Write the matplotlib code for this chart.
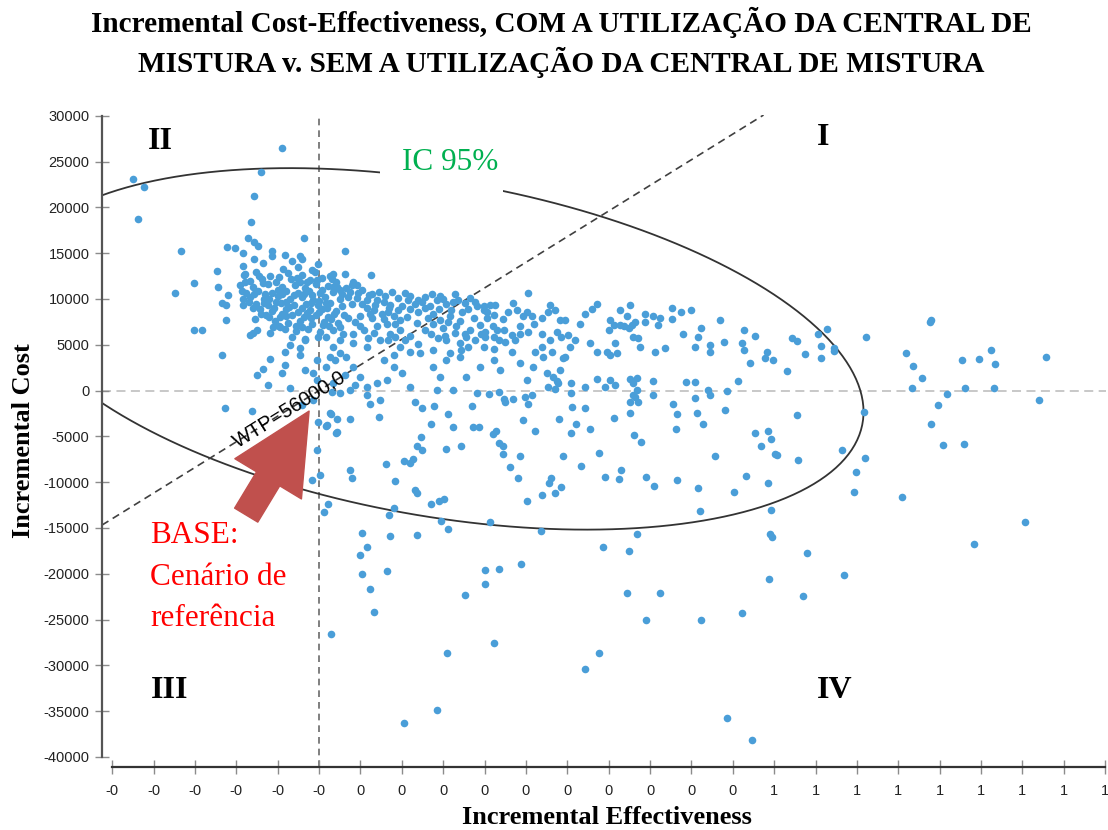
import numpy as np
import matplotlib
matplotlib.use('Agg')
import matplotlib.pyplot as plt
from matplotlib.patches import FancyArrowPatch, Rectangle

plt.rcParams['axes.unicode_minus'] = False

SERIF = 'Liberation Serif'
SANS = 'Liberation Sans'

# (incremental effectiveness, incremental cost)
upper_left = [
    (-0.225, 23100), (-0.211, 22200), (-0.219, 18700), (-0.045, 26500), (-0.070, 23900),
    (-0.079, 21200), (-0.082, 18400), (-0.086, 16700), (-0.079, 16200), (-0.074, 15800),
    (-0.167, 15200), (-0.111, 15700), (-0.102, 15600), (-0.092, 15000), (-0.057, 15200),
    (-0.057, 14700), (-0.041, 14800), (-0.023, 14700), (-0.021, 14400), (-0.018, 16700),
    (0.031, 15200), (0.063, 12600), (-0.174, 10600), (-0.151, 11700), (-0.123, 13000),
    (-0.122, 11300), (-0.110, 10400), (-0.117, 9600), (-0.112, 9300), (-0.092, 13600),
    (-0.089, 12700), (-0.092, 10000), (-0.079, 14400), (-0.068, 13900), (-0.112, 7700),
    (-0.117, 3900), (-0.151, 6600), (-0.141, 6600), (-0.077, 7800), (-0.075, 6600),
    (-0.083, 6100), (-0.080, 6300), (-0.059, 6300), (-0.056, 6900), (-0.047, 6900),
    (-0.059, 3400), (-0.068, 2300), (-0.075, 1700), (-0.045, 1900), (-0.062, 600),
]

core = [
    (-0.033, 14100), (-0.001, 13800), (-0.044, 13300), (-0.025, 13500), (-0.008, 13200),
    (-0.091, 12600), (-0.076, 12900), (-0.059, 12500), (-0.037, 12800), (-0.021, 12600),
    (-0.005, 12900), (0.013, 12500), (0.031, 12700), (-0.083, 12000), (-0.069, 12200),
    (-0.052, 11900), (-0.034, 12200), (-0.023, 11900), (-0.011, 12100), (0.004, 12300),
    (0.021, 11900), (-0.095, 11500), (-0.080, 11300), (-0.062, 11600), (-0.045, 11300),
    (-0.029, 11500), (-0.017, 11200), (-0.004, 11600), (0.011, 11400), (0.033, 11200),
    (-0.088, 10700), (-0.074, 10900), (-0.057, 10600), (-0.040, 10900), (-0.025, 10700),
    (-0.012, 10900), (0.001, 10600), (0.017, 10800), (0.047, 10700), (-0.083, 10200),
    (-0.066, 10000), (-0.050, 10300), (-0.035, 10000), (-0.021, 10200), (-0.007, 9900),
    (0.007, 10200), (0.025, 10000), (-0.092, 9300), (-0.076, 9500), (-0.062, 9300),
    (-0.046, 9600), (-0.030, 9300), (-0.016, 9500), (-0.001, 9300), (0.013, 9600),
    (0.040, 9400), (-0.071, 8900), (-0.057, 8700), (-0.040, 8900), (-0.025, 8600),
    (-0.011, 8800), (0.004, 8900), (0.021, 8700), (-0.064, 8200), (-0.047, 8000),
    (-0.033, 8200), (-0.018, 8000), (-0.004, 8300), (0.011, 8000), (0.030, 8200),
    (-0.053, 7600), (-0.037, 7400), (-0.023, 7600), (-0.008, 7300), (0.006, 7500),
    (0.023, 7400), (-0.041, 6700), (-0.028, 6500), (-0.013, 6700), (0.001, 6400),
    (-0.033, 5800), (-0.017, 5600), (-0.001, 5800), (-0.035, 5000), (-0.023, 4600),
    (-0.041, 4200), (-0.017, 5500), (-0.068, 11700), (-0.050, 11000), (-0.030, 10400),
    (-0.014, 11800), (0.000, 9800), (-0.040, 9700), (-0.055, 9000), (-0.020, 9000),
    (0.010, 9000), (-0.065, 10500), (-0.008, 10400), (0.028, 10500), (-0.045, 8400),
    (-0.010, 7900), (0.018, 8400), (-0.028, 7100), (0.012, 7000), (-0.085, 9700),
    (-0.070, 8400), (-0.090, 11900), (-0.072, 12500), (-0.048, 12400), (-0.027, 12300),
    (-0.003, 12100), (0.016, 12200), (-0.093, 10900), (-0.078, 10500), (-0.060, 10000),
    (-0.045, 10500), (-0.018, 10500), (0.003, 11000), (0.022, 11300), (0.040, 11500),
    (-0.080, 9000), (-0.066, 9600), (-0.052, 9700), (-0.036, 9100), (-0.010, 9600),
    (0.008, 9600), (0.028, 9200), (0.052, 9500), (-0.060, 8000), (-0.040, 8100),
    (-0.015, 8500), (0.000, 8600), (0.015, 7800), (0.035, 7900), (-0.048, 7100),
    (-0.020, 6900), (0.005, 7200), (0.025, 6900),
]

middle = [
    (0.017, 12700), (0.041, 11900), (0.046, 11500), (0.017, 11300), (0.025, 11000),
    (0.035, 10200), (0.046, 10100), (0.058, 9900), (0.070, 9900), (0.078, 9700),
    (0.086, 9300), (0.058, 9000), (0.066, 8800), (0.076, 8400), (0.090, 8100),
    (0.098, 7700), (0.082, 7300), (0.070, 7000), (0.054, 6600), (0.041, 6200),
    (0.029, 6200), (0.017, 6600), (0.009, 5900), (0.025, 5500), (0.041, 5200),
    (0.058, 4800), (0.074, 5500), (0.086, 6200), (0.098, 6600), (0.108, 9900),
    (0.116, 9500), (0.124, 9700), (0.134, 9200), (0.142, 9900), (0.154, 9500),
    (0.162, 9700), (0.168, 9900), (0.138, 8400), (0.146, 7700), (0.158, 8100),
    (0.166, 7000), (0.176, 6200), (0.182, 6600), (0.191, 9200), (0.199, 8800),
    (0.203, 7900), (0.237, 5500), (0.243, 6200), (0.180, 4800), (0.170, 5200),
    (0.154, 5500), (0.158, 4100), (0.172, 4400), (0.138, 4400), (0.122, 4100),
    (0.110, 4200), (0.098, 4800), (0.090, 3900), (0.078, 3300), (0.090, 2600),
    (0.100, 1900), (0.110, 400), (0.082, 1100), (0.070, 800), (0.058, 400),
    (0.050, 1500), (0.041, 2600), (0.033, 3700), (0.025, 4100), (0.017, 4800),
    (0.013, 3700), (0.009, 2600), (-0.003, 3300), (-0.007, 1900), (-0.003, 1100),
    (0.017, 800), (0.025, -300), (0.037, 100), (0.058, -500), (0.074, -1000),
    (0.138, 2600), (0.146, 1500), (0.154, 3300), (0.170, 3700), (0.178, 1500),
    (0.195, 2600), (0.211, 3300), (0.219, 2200), (0.243, 3000), (0.251, 1100),
    (0.259, 2600), (0.271, 3700), (0.275, 1900), (0.142, 100), (0.162, 100),
    (0.191, -300), (0.235, -900), (0.037, 10800), (0.052, 11000), (0.064, 10500),
    (0.080, 10300), (0.095, 10100), (0.110, 10300), (0.128, 10200), (0.146, 10300),
    (0.164, 10500), (0.182, 10100), (0.050, 8100), (0.064, 7900), (0.083, 8600),
    (0.100, 9200), (0.120, 8600), (0.132, 7900), (0.156, 7500), (0.173, 8600),
    (0.187, 7900), (0.044, 7500), (0.059, 5700), (0.083, 5500), (0.110, 6000),
    (0.128, 6600), (0.144, 5700), (0.164, 6300), (0.189, 5500), (0.060, 10400),
    (0.072, 10800), (0.088, 10800), (0.104, 10700), (0.120, 9900), (0.136, 10500),
    (0.150, 10000), (0.176, 9600), (0.188, 9700), (0.068, 9300), (0.084, 9000),
    (0.095, 8800), (0.110, 8900), (0.128, 9000), (0.145, 8900), (0.160, 8800),
    (0.180, 8900), (0.062, 8400), (0.078, 7800), (0.092, 7300), (0.106, 8000),
    (0.118, 7400), (0.138, 7300), (0.150, 6800), (0.170, 7600), (0.195, 7200),
    (0.050, 7000), (0.066, 6300), (0.092, 5900), (0.104, 5500), (0.120, 5100),
    (0.135, 6200), (0.152, 6000), (0.178, 5800), (0.196, 6200), (0.210, 7100),
    (0.222, 7800), (0.228, 8600), (0.260, 7300), (0.235, 9600),
]

right_band = [
    (0.253, 10600), (0.199, 9200), (0.207, 9300), (0.213, 9300), (0.203, 8600),
    (0.211, 8200), (0.239, 8800), (0.251, 8600), (0.247, 8100), (0.257, 8100),
    (0.269, 7900), (0.279, 9300), (0.285, 8800), (0.277, 8600), (0.291, 7700),
    (0.297, 7700), (0.315, 7300), (0.321, 8400), (0.330, 8900), (0.336, 9500),
    (0.364, 8800), (0.376, 9300), (0.372, 8100), (0.352, 7700), (0.356, 7200),
    (0.350, 6600), (0.364, 7200), (0.368, 7000), (0.378, 7200), (0.382, 7500),
    (0.374, 6800), (0.394, 8400), (0.404, 8100), (0.412, 7900), (0.394, 7500),
    (0.410, 7200), (0.427, 9000), (0.438, 8600), (0.450, 8800), (0.427, 7800),
    (0.484, 7700), (0.201, 6400), (0.211, 5900), (0.201, 5900), (0.217, 5500),
    (0.225, 5300), (0.233, 6100), (0.223, 6600), (0.215, 6600), (0.199, 4800),
    (0.211, 4500), (0.233, 4200), (0.243, 7000), (0.253, 6400), (0.269, 6200),
    (0.279, 5500), (0.287, 6400), (0.293, 5900), (0.301, 6100), (0.309, 5500),
    (0.303, 4800), (0.261, 4200), (0.269, 4800), (0.281, 4200), (0.295, 3500),
    (0.297, 3700), (0.328, 5200), (0.336, 4200), (0.348, 4200), (0.358, 5200),
    (0.360, 4100), (0.352, 3900), (0.380, 5900), (0.386, 5700), (0.388, 4800),
    (0.406, 4200), (0.418, 4600), (0.440, 6200), (0.458, 5900), (0.462, 6800),
    (0.473, 5000), (0.473, 4200), (0.489, 5300), (0.454, 4800), (0.513, 6600),
    (0.527, 6000), (0.511, 5200), (0.513, 4400), (0.541, 4200), (0.539, 3500),
    (0.549, 3300), (0.571, 5700), (0.577, 5400), (0.603, 6200), (0.614, 6700),
    (0.606, 4900), (0.606, 3600), (0.622, 4700), (0.622, 4300), (0.587, 4000),
    (0.521, 3000), (0.565, 2100),
]

near_zero = [
    (0.205, -400), (0.217, -200), (0.223, -900), (0.249, -700), (0.257, -500),
    (0.277, 400), (0.285, 200), (0.289, 800), (0.291, 2200), (0.283, 1500),
    (0.287, 1000), (0.305, 800), (0.305, -300), (0.321, 400), (0.336, 1300),
    (0.346, 400), (0.358, 600), (0.352, 1100), (0.376, 1300), (0.384, 1400),
    (0.380, 800), (0.384, 100), (0.380, -500), (0.382, -700), (0.404, 1000),
    (0.404, -500), (0.444, 900), (0.454, 900), (0.454, -800), (0.470, 100),
    (0.472, -500), (0.493, 0), (0.506, 1000),
]

right_tail = [
    (0.661, 5800), (0.738, 7500), (0.740, 7700), (0.709, 4100), (0.718, 2700),
    (0.729, 1400), (0.717, 300), (0.777, 3300), (0.798, 3400), (0.812, 4400),
    (0.817, 2900), (0.781, 300), (0.816, 300), (0.759, -400), (0.748, -1600),
    (0.740, -3600), (0.754, -5900), (0.779, -5800), (0.879, 3700), (0.870, -1000),
    (0.853, -14400), (0.791, -16800), (0.705, -11600), (0.659, -2300), (0.632, -6500),
    (0.660, -7400), (0.649, -8900), (0.647, -11100), (0.634, -20100),
]

lower = [
    (-0.114, -1900), (-0.081, -2200), (-0.007, -1000), (-0.001, -3400), (0.010, -3800),
    (0.013, -2500), (0.022, -4500), (0.037, -3100), (-0.003, -6500), (0.001, -9200),
    (-0.009, -9800), (0.011, -12400), (0.006, -13300), (0.037, -8700), (0.040, -9600),
    (0.081, -8000), (0.103, -7700), (0.113, -7500), (0.110, -7900), (0.116, -10900),
    (0.118, -11200), (0.092, -9900), (0.090, -12800), (0.084, -13600), (0.052, -15500),
    (0.058, -17100), (0.049, -18000), (0.052, -20000), (0.061, -21700), (0.082, -19700),
    (0.086, -15900), (0.118, -15800), (0.066, -24200), (0.015, -26600), (0.118, -6100),
    (0.116, -1200), (-0.021, -1600), (-0.041, 2800), (-0.035, 300), (-0.017, 2200),
    (-0.023, 3900), (0.019, 3300), (0.031, 1700), (0.044, 600), (0.016, -200),
    (0.015, -2600), (0.022, -3100), (0.009, -3900), (0.021, -4600), (0.061, -1500),
    (0.073, -2900), (0.125, -1900), (0.139, -1700), (0.135, -3700), (0.156, -2600),
    (0.162, -4000), (0.123, -5100), (0.124, -6500), (0.154, -6400), (0.172, -6100),
    (0.185, -1700), (0.186, -4000), (0.193, -4000), (0.210, -4700), (0.214, -4400),
    (0.217, -5700), (0.222, -6000), (0.222, -6900), (0.225, -1200), (0.246, -3200),
    (0.253, -1500), (0.261, -4400), (0.243, -7200), (0.231, -8400), (0.241, -9500),
    (0.251, -12100), (0.290, -3100), (0.306, -1800), (0.321, -1900), (0.311, -3700),
    (0.305, -4600), (0.327, -4200), (0.295, -7200), (0.317, -8200), (0.338, -6800),
    (0.280, -9600), (0.278, -10100), (0.292, -10500), (0.285, -11200), (0.269, -11400),
    (0.356, -3000), (0.376, -1200), (0.386, -1200), (0.376, -2400), (0.381, -4800),
    (0.389, -5600), (0.346, -9400), (0.365, -8700), (0.363, -9700), (0.395, -9400),
    (0.405, -10400), (0.428, -1500), (0.433, -2600), (0.431, -4200), (0.433, -9800),
    (0.457, -2400), (0.464, -3700), (0.479, -7200), (0.458, -10600), (0.460, -13200),
    (0.490, -2100), (0.501, -11100), (0.516, -9300), (0.527, -4600), (0.534, -6000),
    (0.542, -4400), (0.546, -5300), (0.551, -6900), (0.554, -7000), (0.543, -10100),
    (0.546, -13000), (0.577, -2700), (0.579, -7600), (0.545, -15700), (0.547, -16000),
    (0.590, -17700), (0.544, -20600), (0.585, -22400), (0.461, -25000), (0.511, -24300),
    (0.395, -25000), (0.372, -22100), (0.412, -22100), (0.375, -17500), (0.384, -15700),
    (0.343, -17100), (0.268, -15300), (0.244, -18900), (0.218, -19500), (0.201, -19600),
    (0.201, -21100), (0.176, -22300), (0.211, -27600), (0.155, -28700), (0.143, -34900),
    (0.103, -36300), (0.321, -30400), (0.338, -28700), (0.493, -35800), (0.523, -38200),
    (0.156, -15100), (0.147, -14200), (0.135, -12400), (0.145, -12100), (0.151, -11800),
    (0.207, -14400),
]

# 95% confidence ellipse: centre and two conjugate semi-diameters
ELL_CENTER = (0.144, 4550)
ELL_U = (0.514, -6870)
ELL_V = (0.0, 18500)

WTP = 56000
XTICKS = [round(-0.25 + 0.05 * i, 2) for i in range(25)]
XTICK_LABELS = ['-0'] * 6 + ['0'] * 10 + ['1'] * 9
YTICKS = list(range(-40000, 30001, 5000))

fig = plt.figure(figsize=(11.08, 8.30), dpi=100)
ax = fig.add_axes([0.0921, 0.0759, 0.9061, 0.7855])

pts = np.array(upper_left + core + middle + right_band + near_zero + right_tail + lower)
ax.scatter(pts[:, 0], pts[:, 1], s=30, color='#4a9ed8', linewidths=0, zorder=3)

t = np.linspace(0, 2 * np.pi, 400)
ex = ELL_CENTER[0] + ELL_U[0] * np.cos(t) + ELL_V[0] * np.sin(t)
ey = ELL_CENTER[1] + ELL_U[1] * np.cos(t) + ELL_V[1] * np.sin(t)
ax.plot(ex, ey, color='#333333', lw=1.3, zorder=2)

ax.axvline(0, color='#6a6a6a', ls=(0, (4, 3)), lw=1.2, zorder=1)
ax.axhline(0, color='#c4c4c4', ls=(0, (5, 3)), lw=1.3, zorder=1)
ax.axline((0, 0), slope=WTP, color='#404040', ls=(0, (4.5, 3)), lw=1.2, zorder=2)

ax.set_xlim(-0.2622, 0.951)
ax.set_ylim(-41100, 30080)

# white patch behind the IC label cuts the ellipse line
ax.add_patch(Rectangle((0.074, 20800), 0.148, 7000, facecolor='white',
                       edgecolor='none', zorder=2.5))
ax.text(0.158, 24900, 'IC 95%', color='#00b050', fontsize=22.5, family=SERIF,
        ha='center', va='center', zorder=4)

# WTP label along the dashed line
p0 = ax.transData.transform((0, 0))
p1 = ax.transData.transform((0.1, 0.1 * WTP))
angle = np.degrees(np.arctan2(p1[1] - p0[1], p1[0] - p0[0]))
ax.text(-0.036, -0.036 * WTP, 'WTP=56000,0', fontsize=14.5, family=SANS,
        rotation=angle, rotation_mode='anchor', ha='center', va='center', zorder=4)

arrow = FancyArrowPatch((-0.088, -13600), (-0.012, -2240),
                        arrowstyle='simple,head_length=57,head_width=56,tail_width=19.5',
                        mutation_scale=1, color='#c0504d', shrinkA=0, shrinkB=0, zorder=5)
ax.add_patch(arrow)

ax.text(0.0478, 0.377, 'BASE:\nCenário de\nreferência', transform=ax.transAxes,
        color='#ff0000', fontsize=22.5, family=SERIF, ha='left', va='top',
        linespacing=1.56, zorder=6)

for lab, xa, ya in [('II', 0.0578, 0.960), ('I', 0.7181, 0.966),
                    ('III', 0.0677, 0.118), ('IV', 0.7301, 0.118)]:
    ax.text(xa, ya, lab, transform=ax.transAxes, fontsize=23, family=SERIF,
            fontweight='bold', ha='center', va='center', zorder=6)

ax.set_xticks(XTICKS)
ax.set_xticklabels(XTICK_LABELS)
ax.set_yticks(YTICKS)
ax.tick_params(axis='both', direction='inout', length=10, width=1, color='#8c8c8c',
               labelsize=10.5, labelcolor='#222222')
ax.tick_params(axis='x', pad=7)
ax.tick_params(axis='y', pad=4)
for lbl in ax.get_xticklabels() + ax.get_yticklabels():
    lbl.set_family(SANS)

for side in ['top', 'right']:
    ax.spines[side].set_visible(False)
ax.spines['left'].set_bounds(-40000, 30000)
ax.spines['left'].set_color('#555555')
ax.spines['left'].set_linewidth(1.6)
ax.spines['bottom'].set_bounds(-0.25, 0.95)
ax.spines['bottom'].set_color('#333333')
ax.spines['bottom'].set_linewidth(1.6)

ax.set_xlabel('Incremental Effectiveness', family=SERIF, fontweight='bold',
              fontsize=19, va='center')
ax.xaxis.set_label_coords(0.503, -0.078)
ax.set_ylabel('Incremental Cost', family=SERIF, fontweight='bold',
              fontsize=19, va='center')
ax.yaxis.set_label_coords(-0.078, 0.5)

fig.text(0.5068, 0.9735, 'Incremental Cost-Effectiveness, COM A UTILIZAÇÃO DA CENTRAL DE',
         family=SERIF, fontweight='bold', fontsize=21.1, ha='center', va='center')
fig.text(0.5068, 0.9253, 'MISTURA v. SEM A UTILIZAÇÃO DA CENTRAL DE MISTURA',
         family=SERIF, fontweight='bold', fontsize=21.1, ha='center', va='center')

fig.savefig('out.png', dpi=100, facecolor='white')
